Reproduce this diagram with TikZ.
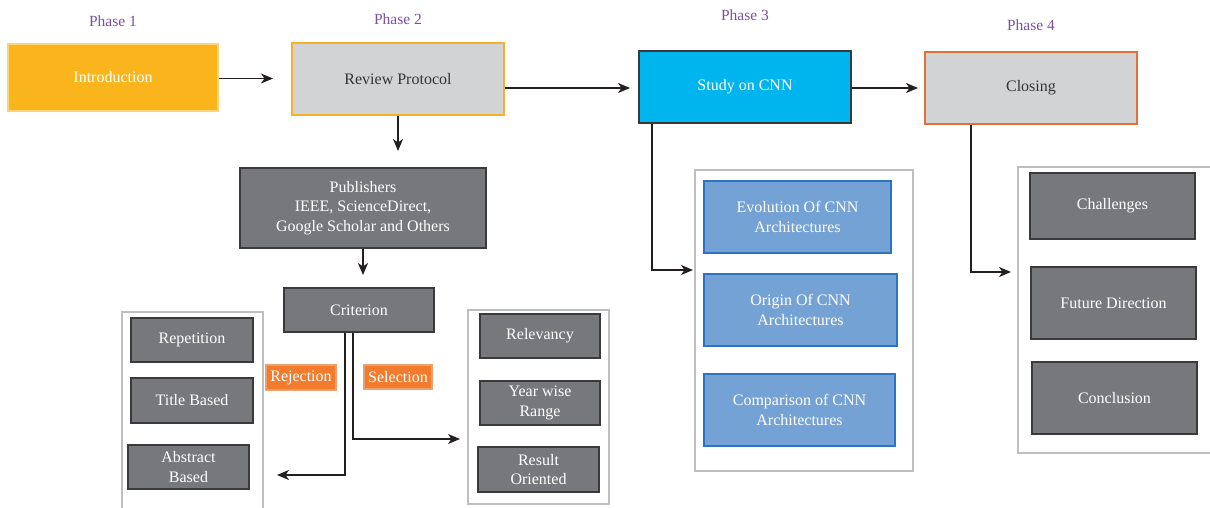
\documentclass[tikz,border=0pt]{standalone}
\usepackage{fontspec}
\setmainfont{Liberation Serif}
\usetikzlibrary{arrows.meta}
\definecolor{phasepurple}{HTML}{7B4FA0}
\definecolor{introfill}{HTML}{FBB51C}
\definecolor{lightgrey}{HTML}{D1D3D4}
\definecolor{reviewedge}{HTML}{F5B12A}
\definecolor{cnnfill}{HTML}{00B4EE}
\definecolor{closeedge}{HTML}{E2703A}
\definecolor{darkfill}{HTML}{77787B}
\definecolor{darkedge}{HTML}{3A3A3C}
\definecolor{bluefill}{HTML}{74A2D4}
\definecolor{blueedge}{HTML}{2C73C2}
\definecolor{tagfill}{HTML}{F37B2E}
\definecolor{tagedge}{HTML}{EBA070}
\definecolor{frame}{HTML}{BCBEC0}
\definecolor{ink}{HTML}{231F20}
\definecolor{txtdark}{HTML}{333333}
\tikzset{
  basebox/.style={rectangle, align=center, inner sep=2pt, line width=1.3pt,
    font=\fontsize{16}{19.5}\selectfont},
  introbox/.style={basebox, fill=introfill, draw=introfill!60!white, text=white},
  reviewbox/.style={basebox, fill=lightgrey, draw=reviewedge, text=txtdark},
  cnnbox/.style={basebox, fill=cnnfill, draw=darkedge, text=white},
  closebox/.style={basebox, fill=lightgrey, draw=closeedge, text=txtdark},
  darkbox/.style={basebox, fill=darkfill, draw=darkedge, text=white},
  bluebox/.style={basebox, fill=bluefill, draw=blueedge, text=white},
  tagbox/.style={basebox, fill=tagfill, draw=tagedge, text=white, inner sep=1pt},
  phaselabel/.style={text=phasepurple, font=\fontsize{15.5}{17}\selectfont},
  groupframe/.style={draw=frame, line width=1.3pt, fill=white},
  arr/.style={draw=ink, line width=1.2pt,
    -{Stealth[length=12pt, width=10pt, inset=3.5pt]}},
}
\begin{document}
\begin{tikzpicture}[x=1pt, y=-1pt]
\useasboundingbox (0,0) rectangle (1210,507);
\clip (0,0) rectangle (1210,507);

% phase headings
\node[phaselabel] (p1) at (113,21) {Phase 1};
\node[phaselabel] (p2) at (398,19) {Phase 2};
\node[phaselabel] (p3) at (745,15) {Phase 3};
\node[phaselabel] (p4) at (1031,25) {Phase 4};

% grouping frames
\draw[groupframe] (122,312) rectangle (263,520);
\draw[groupframe] (468,310) rectangle (609,504);
\draw[groupframe] (695,170) rectangle (913,471);
\draw[groupframe] (1018,167) rectangle (1220,453);

% main phase boxes
\node[introbox, minimum width=210, minimum height=67] (intro) at (113,77.5) {Introduction};
\node[reviewbox, minimum width=212, minimum height=72] (review) at (398,79) {Review Protocol};
\node[cnnbox, minimum width=212, minimum height=72] (study) at (745,87) {Study on CNN};
\node[closebox, minimum width=212, minimum height=72] (closing) at (1031,88) {Closing};

% phase 2 details
\node[darkbox, minimum width=246, minimum height=80] (pub) at (363,208)
  {Publishers\\IEEE, ScienceDirect,\\Google Scholar and Others};
\node[darkbox, minimum width=150, minimum height=44] (crit) at (359,310) {Criterion};

\node[darkbox, minimum width=122, minimum height=44] (rep) at (192,340) {Repetition};
\node[darkbox, minimum width=122, minimum height=45] (title) at (192,400.5) {Title Based};
\node[darkbox, minimum width=121, minimum height=44] (abs) at (188.5,467) {Abstract\\Based};

\node[tagbox, minimum width=70, minimum height=25] (rej) at (301,377.5) {Rejection};
\node[tagbox, minimum width=68, minimum height=24] (sel) at (398,377) {Selection};

\node[darkbox, minimum width=120, minimum height=44] (rel) at (540,336) {Relevancy};
\node[darkbox, minimum width=120, minimum height=44] (year) at (540,403) {Year wise\\Range};
\node[darkbox, minimum width=121, minimum height=45] (res) at (538.5,469.5) {Result\\Oriented};

% phase 3 details
\node[bluebox, minimum width=187, minimum height=72] (evo) at (797.5,217) {Evolution Of CNN\\Architectures};
\node[bluebox, minimum width=193, minimum height=72] (orig) at (800.5,310) {Origin Of CNN\\Architectures};
\node[bluebox, minimum width=191, minimum height=72] (comp) at (799.5,410) {Comparison of CNN\\Architectures};

% phase 4 details
\node[darkbox, minimum width=165, minimum height=66] (chal) at (1112.5,206) {Challenges};
\node[darkbox, minimum width=165, minimum height=72] (fut) at (1113.5,303) {Future Direction};
\node[darkbox, minimum width=165, minimum height=72] (conc) at (1114.5,398) {Conclusion};

% arrow end points
\coordinate (introTip) at (273,78.5);
\coordinate (reviewTip) at (630,88);
\coordinate (closeTip) at (918,88);
\coordinate (pubTip) at (398,151);
\coordinate (critTip) at (363,275);
\coordinate (rejTip) at (277,475);
\coordinate (selTip) at (460,439);
\coordinate (midTip) at (693,270);
\coordinate (rightTip) at (1011,272);

% connectors
\draw[arr] (intro.east |- introTip) -- (introTip);
\draw[arr] (review.east |- reviewTip) -- (reviewTip);
\draw[arr] (study.east |- closeTip) -- (closeTip);
\draw[arr] (review.south) -- (pubTip);
\draw[arr] (pub.south -| critTip) -- (critTip);
\draw[arr] (crit.south -| 345,0) -- (345,475) -- (rejTip);
\draw[arr] (crit.south -| 353,0) -- (353,439) -- (selTip);
\draw[arr] (study.south -| 652,0) -- (652,270) -- (midTip);
\draw[arr] (closing.south -| 971,0) -- (971,272) -- (rightTip);
\end{tikzpicture}
\end{document}
